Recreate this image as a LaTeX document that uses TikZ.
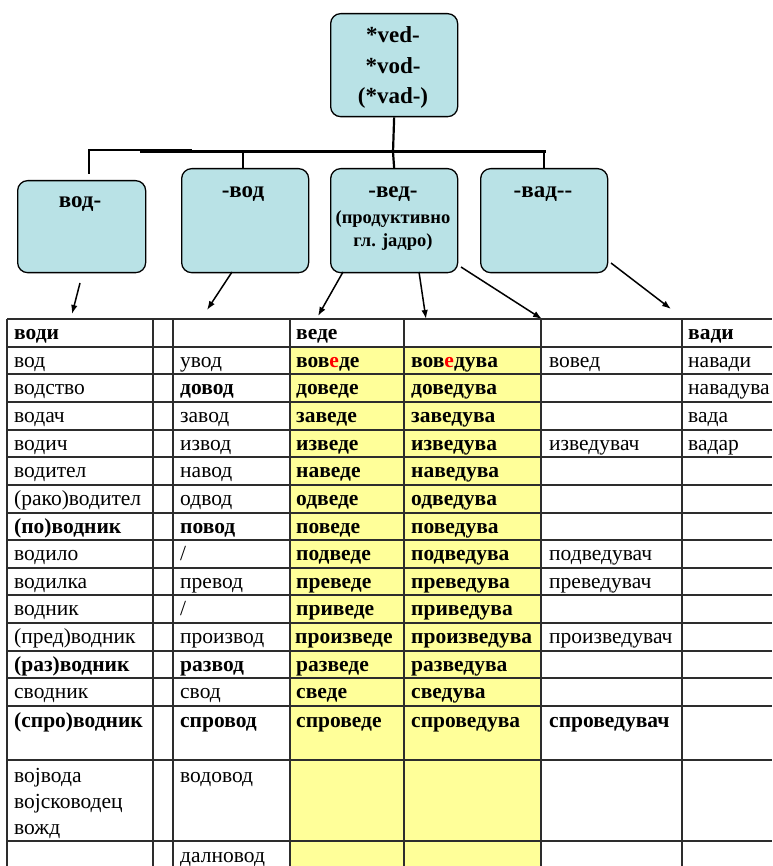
\documentclass[tikz,border=0pt]{standalone}
\usepackage{fontspec}
\setmainfont{Liberation Serif}
\usetikzlibrary{arrows.meta}
\definecolor{boxfill}{RGB}{185,226,230}
\definecolor{yel}{RGB}{255,255,153}
\definecolor{gridc}{RGB}{45,45,45}
\newcommand\cl[4]{\node[cellt] (#1) at (#2,#3) {#4};}
\newcommand\re[1]{\textcolor{red}{#1}}
\begin{document}
\begin{tikzpicture}[x=1pt,y=-1pt,
  rbox/.style={draw=black, line width=1.3pt, fill=boxfill, rounded corners=10pt, inner sep=0pt, anchor=north west},
  boxt/.style={font=\fontsize{23}{26}\selectfont\bfseries, inner sep=0pt, anchor=base},
  boxs/.style={font=\fontsize{18.5}{22}\selectfont\bfseries, inner sep=0pt, anchor=base},
  cellt/.style={font=\fontsize{21.5}{25}\selectfont, inner sep=0pt, anchor=base west},
  arr/.style={line width=1.5pt, -{Latex[length=9pt,width=6.5pt]}},
  gl/.style={draw=gridc, line width=1.4pt}]
\useasboundingbox (0,0) rectangle (772,866);
% boxes
\node[rbox, minimum width=127pt, minimum height=103pt] (top) at (330,13) {};
\node[rbox, minimum width=128pt, minimum height=92pt] (b1) at (17,180) {};
\node[rbox, minimum width=127pt, minimum height=104pt] (b2) at (181,168) {};
\node[rbox, minimum width=127pt, minimum height=104pt] (b3) at (330,168) {};
\node[rbox, minimum width=127pt, minimum height=104pt] (b4) at (480,168) {};
\node[boxt] (t1) at (393,43) {*ved-};
\node[boxt] (t2) at (393,74) {*vod-};
\node[boxt] (t3) at (393,104) {(*vad-)};
\node[boxt] (l1) at (80,208) {вод-};
\node[boxt] (l2) at (243,198) {-вод};
\node[boxt] (l3) at (393,198) {-вед-};
\node[boxs] (l3b) at (393,224) {(продуктивно};
\node[boxs] (l3c) at (393,247) {гл. јадро)};
\node[boxt] (l4) at (543,198) {-вад-{}-};
% tree connectors
\coordinate (jc) at (393,152);
\coordinate (hl) at (140,152);
\coordinate (hr) at (545.5,152);
\coordinate (tl) at (89,150);
\coordinate (tr) at (192,150);
\coordinate (td) at (89,174);
\draw[line width=2.2pt] (top.south) -- (jc);
\draw[line width=3pt] (hl) -- (hr);
\draw[line width=1.3pt] (td) -- (tl) -- (tr);
\draw[line width=2.2pt] (b2.north -| 243,0) -- (243,152);
\draw[line width=2.2pt] (b3.north) -- (jc);
\draw[line width=2.2pt] (544,168) -- (544,152);
% arrows
\coordinate (a1s) at (80,283);  \coordinate (a1e) at (72,314);
\coordinate (a2s) at (232,272); \coordinate (a2e) at (207,310);
\coordinate (a3s) at (343,272); \coordinate (a3e) at (318,316);
\coordinate (a4s) at (419,272); \coordinate (a4e) at (426,319);
\coordinate (a5s) at (461,267); \coordinate (a5e) at (542,319);
\coordinate (a6s) at (611,263); \coordinate (a6e) at (671,309);
\foreach \i in {1,...,6} \draw[arr] (a\i s) -- (a\i e);
% table
\fill[yel] (290,347) rectangle (541,866);
\foreach \y in {319,347,374,402,430,457,485,513,540,568,595,623,651,678,706,760,841}
  \draw[gl] (7,\y) -- (772,\y);
\foreach \x in {7,153,173,290,404,541,682}
  \draw[gl] (\x,319) -- (\x,866);
% header
\cl{h1}{14}{339}{\bfseries води}
\cl{h4}{296}{339}{\bfseries веде}
\cl{h7}{688}{339}{\bfseries вади}
% rows
\def\ya{367}\def\yb{394}\def\yc{422}\def\yd{450}\def\ye{477}\def\yf{505}\def\yg{533}
\def\yh{560}\def\yi{588}\def\yj{615}\def\yk{643}\def\yl{671}\def\ym{698}\def\yn{727}
\cl{r1a}{14}{\ya}{вод}\cl{r1c}{180}{\ya}{увод}\cl{r1d}{296}{\ya}{\bfseries вов\re{е}де}\cl{r1e}{411}{\ya}{\bfseries вов\re{е}дува}\cl{r1f}{549}{\ya}{вовед}\cl{r1g}{688}{\ya}{навади}
\cl{r2a}{14}{\yb}{водство}\cl{r2c}{180}{\yb}{\bfseries довод}\cl{r2d}{296}{\yb}{\bfseries доведе}\cl{r2e}{411}{\yb}{\bfseries доведува}\cl{r2g}{688}{\yb}{навадува}
\cl{r3a}{14}{\yc}{водач}\cl{r3c}{180}{\yc}{завод}\cl{r3d}{296}{\yc}{\bfseries заведе}\cl{r3e}{411}{\yc}{\bfseries заведува}\cl{r3g}{688}{\yc}{вада}
\cl{r4a}{14}{\yd}{водич}\cl{r4c}{180}{\yd}{извод}\cl{r4d}{296}{\yd}{\bfseries изведе}\cl{r4e}{411}{\yd}{\bfseries изведува}\cl{r4f}{549}{\yd}{изведувач}\cl{r4g}{688}{\yd}{вадар}
\cl{r5a}{14}{\ye}{водител}\cl{r5c}{180}{\ye}{навод}\cl{r5d}{296}{\ye}{\bfseries наведе}\cl{r5e}{411}{\ye}{\bfseries наведува}
\cl{r6a}{14}{\yf}{(рако)водител}\cl{r6c}{180}{\yf}{одвод}\cl{r6d}{296}{\yf}{\bfseries одведе}\cl{r6e}{411}{\yf}{\bfseries одведува}
\cl{r7a}{14}{\yg}{\bfseries (по)водник}\cl{r7c}{180}{\yg}{\bfseries повод}\cl{r7d}{296}{\yg}{\bfseries поведе}\cl{r7e}{411}{\yg}{\bfseries поведува}
\cl{r8a}{14}{\yh}{водило}\cl{r8c}{180}{\yh}{/}\cl{r8d}{296}{\yh}{\bfseries подведе}\cl{r8e}{411}{\yh}{\bfseries подведува}\cl{r8f}{549}{\yh}{подведувач}
\cl{r9a}{14}{\yi}{водилка}\cl{r9c}{180}{\yi}{превод}\cl{r9d}{296}{\yi}{\bfseries преведе}\cl{r9e}{411}{\yi}{\bfseries преведува}\cl{r9f}{549}{\yi}{преведувач}
\cl{r10a}{14}{\yj}{водник}\cl{r10c}{180}{\yj}{/}\cl{r10d}{296}{\yj}{\bfseries приведе}\cl{r10e}{411}{\yj}{\bfseries приведува}
\cl{r11a}{14}{\yk}{(пред)водник}\cl{r11c}{180}{\yk}{производ}\cl{r11d}{295}{\yk}{\bfseries произведе}\cl{r11e}{411}{\yk}{\bfseries произведува}\cl{r11f}{549}{\yk}{произведувач}
\cl{r12a}{14}{\yl}{\bfseries (раз)водник}\cl{r12c}{180}{\yl}{\bfseries развод}\cl{r12d}{296}{\yl}{\bfseries разведе}\cl{r12e}{411}{\yl}{\bfseries разведува}
\cl{r13a}{14}{\ym}{сводник}\cl{r13c}{180}{\ym}{свод}\cl{r13d}{296}{\ym}{\bfseries сведе}\cl{r13e}{411}{\ym}{\bfseries сведува}
\cl{r14a}{14}{\yn}{\bfseries (спро)водник}\cl{r14c}{180}{\yn}{\bfseries спровод}\cl{r14d}{296}{\yn}{\bfseries спроведе}\cl{r14e}{411}{\yn}{\bfseries спроведува}\cl{r14f}{549}{\yn}{\bfseries спроведувач}
\cl{r15a}{14}{782}{војвода}\cl{r15b}{14}{808}{војсководец}\cl{r15c}{14}{834}{вожд}\cl{r15d}{180}{782}{водовод}
\cl{r16c}{180}{862}{далновод}
\end{tikzpicture}
\end{document}
